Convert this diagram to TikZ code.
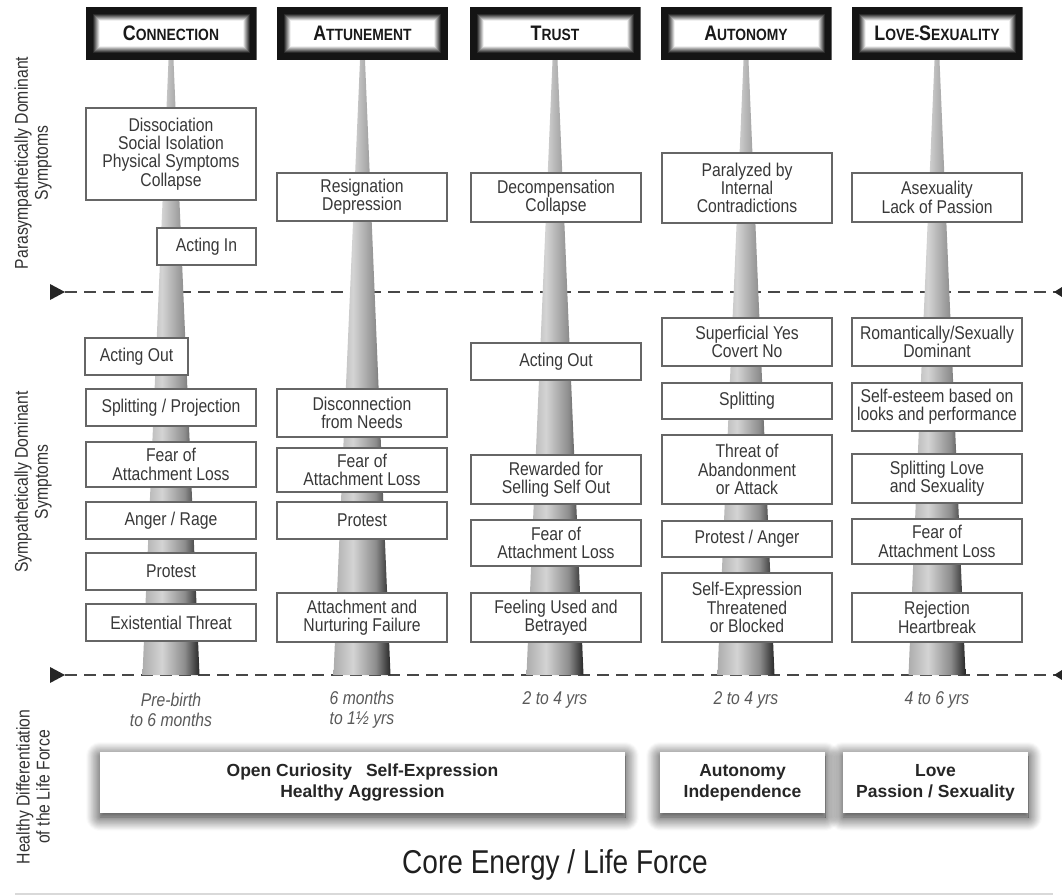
\documentclass[tikz,border=0pt]{standalone}
\usepackage{fontspec}
\setmainfont{Liberation Sans}[FakeStretch=0.85]
\newfontfamily\widefont{Liberation Sans}
\usetikzlibrary{shadows.blur}

\pgfdeclarehorizontalshading{spikeshade}{100bp}{color(0bp)=(black!32); color(25bp)=(black!32); color(42bp)=(black!17); color(62bp)=(black!45); color(75bp)=(black!85); color(100bp)=(black!85)}
\newcommand{\hdrword}[2]{{\fontsize{21}{21}\selectfont #1}{\fontsize{16.3}{16.3}\selectfont #2}}

\begin{document}
\begin{tikzpicture}[x=1pt,y=-1pt,
    hdr/.style={minimum width=171, minimum height=53, inner sep=0pt, font=\bfseries, text=black!90,
        path picture={\foreach \k in {0,...,14}{\pgfmathtruncatemacro\g{max(0,min(92,175-13*\k))}
            \fill[black!\g] ([shift={(\k,\k)}]path picture bounding box.north west) rectangle ([shift={(-\k,-\k)}]path picture bounding box.south east);}}},
    symp/.style={draw=black!60, line width=1.3pt, fill=white, inner sep=0pt, align=center, text=black!78,
        font=\fontsize{18.5}{18.3}\selectfont, minimum width=170},
    sep/.style={draw=black!72, line width=2.2pt, dash pattern=on 12pt off 7pt},
    agetext/.style={align=center, text=black!65, font=\itshape\fontsize{18.5}{20}\selectfont},
    sidetext/.style={align=center, rotate=90, text=black!80, font=\fontsize{18.5}{20}\selectfont},
    health/.style={fill=white, inner sep=0pt, minimum height=61, align=center, text=black!85,
        font=\widefont\bfseries\fontsize{17.5}{21}\selectfont,
        blur shadow={shadow xshift=0pt, shadow yshift=-4pt, shadow blur radius=14pt, shadow blur steps=16, shadow opacity=90}}]
    \useasboundingbox (0,0) rectangle (1062,896);

    % stage headers
    \node[hdr] (conn) at (171,33.5) {\hdrword{C}{ONNECTION}};
    \node[hdr] (attu) at (362.5,33.5) {\hdrword{A}{TTUNEMENT}};
    \node[hdr] (trust) at (555,33.5) {\hdrword{T}{RUST}};
    \node[hdr] (auto) at (746,33.5) {\hdrword{A}{UTONOMY}};
    \node[hdr] (love) at (937,33.5) {\hdrword{L}{OVE-}\hdrword{S}{EXUALITY}};

    % dashed separators
    \coordinate (upL) at (65,292);
    \coordinate (upR) at (1062,292);
    \coordinate (loL) at (65,675);
    \coordinate (loR) at (1062,675);
    \draw[sep] (upL) -- (upR);
    \draw[sep] (loL) -- (loR);
    \fill[black!85] (upL) -- ++(-15,-8) -- ++(0,16) -- cycle;
    \fill[black!85] (loL) -- ++(-15,-8) -- ++(0,16) -- cycle;
    \fill[black!85] (1054,292) -- (1062,287) -- (1062,297) -- cycle;
    \fill[black!85] (1054,675) -- (1062,670) -- (1062,680) -- cycle;

    % spikes
    \coordinate (connB) at (171,675);
    \coordinate (attuB) at (362,675);
    \coordinate (trustB) at (555,675);
    \coordinate (autoB) at (746,675);
    \coordinate (loveB) at (937,675);
    \foreach \h/\b in {conn/connB, attu/attuB, trust/trustB, auto/autoB, love/loveB}
        \shade[shading=spikeshade] ([xshift=-2.5pt]\h.south) -- ([xshift=2.5pt]\h.south) -- ([xshift=28.5pt]\b) -- ([xshift=-28.5pt]\b) -- cycle;

    % connection
    \node[symp, minimum height=92] (c1) at (171,154) {Dissociation\\Social Isolation\\Physical Symptoms\\Collapse};
    \node[symp, minimum width=99, minimum height=37] (c2) at (206.5,246.5) {Acting In};
    \node[symp, minimum width=103, minimum height=37] (c3) at (136.5,356.5) {Acting Out};
    \node[symp, minimum height=37] (c4) at (171,407.5) {Splitting / Projection};
    \node[symp, minimum height=45] (c5) at (171,464.5) {Fear of\\Attachment Loss};
    \node[symp, minimum height=37] (c6) at (171,520.5) {Anger / Rage};
    \node[symp, minimum height=37] (c7) at (171,571.5) {Protest};
    \node[symp, minimum height=37] (c8) at (171,622.5) {Existential Threat};

    % attunement
    \node[symp, minimum height=48] (a1) at (362,197) {Resignation\\Depression};
    \node[symp, minimum height=48] (a2) at (362,413) {Disconnection\\from Needs};
    \node[symp, minimum height=44] (a3) at (362,470) {Fear of\\Attachment Loss};
    \node[symp, minimum height=37] (a4) at (362,520.5) {Protest};
    \node[symp, minimum height=49] (a5) at (362,617.5) {Attachment and\\Nurturing Failure};

    % trust
    \node[symp, minimum height=49] (t1) at (556,197.5) {Decompensation\\Collapse};
    \node[symp, minimum height=37] (t2) at (556,361.5) {Acting Out};
    \node[symp, minimum height=49] (t3) at (556,479.5) {Rewarded for\\Selling Self Out};
    \node[symp, minimum height=46] (t4) at (556,543) {Fear of\\Attachment Loss};
    \node[symp, minimum height=49] (t5) at (556,617.5) {Feeling Used and\\Betrayed};

    % autonomy
    \node[symp, minimum height=70] (u1) at (747,188) {Paralyzed by\\Internal\\Contradictions};
    \node[symp, minimum height=48] (u2) at (747,342) {Superficial Yes\\Covert No};
    \node[symp, minimum height=36] (u3) at (747,401) {Splitting};
    \node[symp, minimum height=69] (u4) at (747,469.5) {Threat of\\Abandonment\\or Attack};
    \node[symp, minimum height=36] (u5) at (747,539) {Protest / Anger};
    \node[symp, minimum height=69] (u6) at (747,607.5) {Self-Expression\\Threatened\\or Blocked};

    % love-sexuality
    \node[symp, minimum height=49] (l1) at (937,197.5) {Asexuality\\Lack of Passion};
    \node[symp, minimum height=48] (l2) at (937,342) {Romantically/Sexually\\Dominant};
    \node[symp, minimum height=48] (l3) at (937,407) {Self-esteem based on\\looks and performance};
    \node[symp, minimum height=49] (l4) at (937,478.5) {Splitting Love\\and Sexuality};
    \node[symp, minimum height=45] (l5) at (937,541.5) {Fear of\\Attachment Loss};
    \node[symp, minimum height=49] (l6) at (937,617.5) {Rejection\\Heartbreak};

    % ages
    \node[agetext] (ageC) at (171,710) {Pre-birth\\to 6 months};
    \node[agetext] (ageA) at (362,710) {6 months\\to 1\textonehalf{} yrs};
    \node[agetext] (ageT) at (555,700) {2 to 4 yrs};
    \node[agetext] (ageU) at (746,700) {2 to 4 yrs};
    \node[agetext] (ageL) at (937,700) {4 to 6 yrs};

    % side labels
    \node[sidetext] (para) at (33,163) {Parasympathetically Dominant\\Symptoms};
    \node[sidetext] (symp) at (33,482) {Sympathetically Dominant\\Symptoms};
    \node[sidetext] (diff) at (33,787) {Healthy Differentiation\\of the Life Force};

    % healthy differentiation
    \node[health, minimum width=525] (open) at (362.5,782.5) {Open Curiosity\hspace{0.8em}Self-Expression\\Healthy Aggression};
    \node[health, minimum width=165] (indep) at (742.5,782.5) {Autonomy\\Independence};
    \node[health, minimum width=185] (pass) at (935.5,782.5) {Love\\Passion / Sexuality};

    \node[anchor=base, text=black!88, font=\fontsize{33}{33}\selectfont] (core) at (555,873) {Core Energy / Life Force};
    \draw[black!15, line width=1.5pt] (15,894) -- (1053,894);
\end{tikzpicture}
\end{document}
